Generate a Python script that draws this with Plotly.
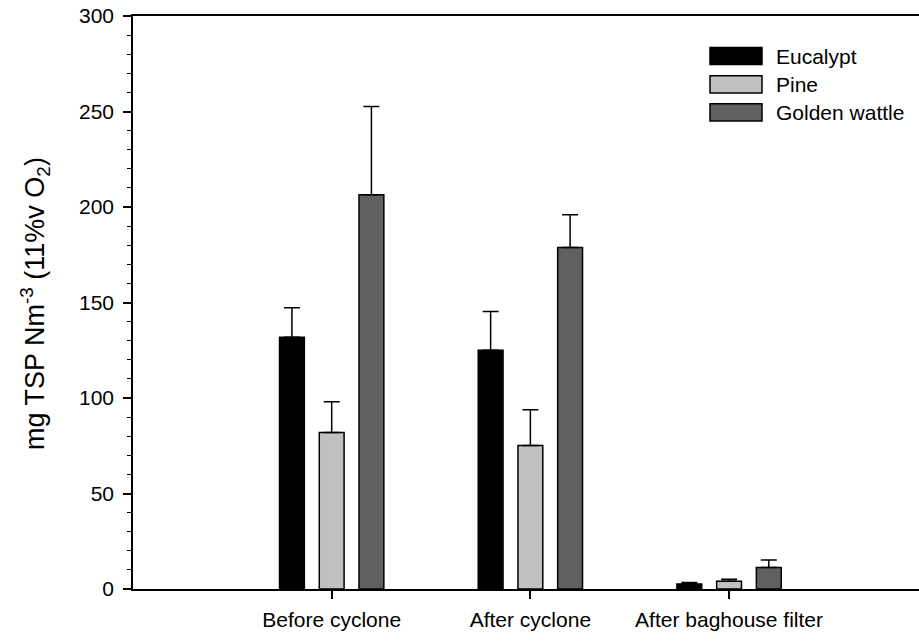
import plotly.graph_objects as go

# ---- data ----
stages = ["Before cyclone", "After cyclone", "After baghouse filter"]
stage_pos = [1, 2, 3]
series_names = ["Eucalypt", "Pine", "Golden wattle"]
eucalypt = [131.8, 125.0, 2.6]
eucalypt_err = [15.4, 20.3, 0.8]
pine = [81.9, 75.1, 4.0]
pine_err = [16.1, 18.7, 1.1]
golden = [206.4, 178.8, 11.3]
golden_err = [46.2, 17.1, 3.9]
y_ticks = [0, 50, 100, 150, 200, 250, 300]

colors = ["#000000", "#c0c0c0", "#606060"]
values = [eucalypt, pine, golden]
errors = [eucalypt_err, pine_err, golden_err]
offsets = [-0.2, 0.0, 0.2]
bar_w = 0.125

FONT = "Liberation Sans, Arial, sans-serif"

fig = go.Figure()
for name, vals, errs, col, off in zip(series_names, values, errors, colors, offsets):
    fig.add_trace(go.Bar(
        x=stage_pos, y=vals, name=name,
        width=bar_w, offset=off - bar_w / 2,
        marker=dict(color=col, line=dict(color="black", width=1.5)),
        error_y=dict(type="data", symmetric=False, array=errs,
                     arrayminus=[0] * len(errs), color="black",
                     thickness=1.5, width=8),
        showlegend=False,
    ))

W, H = 919, 641
L, R, T, B = 133, 0, 16, 52
pw, ph = W - L - R, H - T - B


def px2paper_x(px):
    return (px - L) / pw


def px2paper_y(py):
    return (H - B - py) / ph


shapes = []
annotations = []
# custom legend
leg_rows = [56, 84.3, 112.3]
for name, col, yc in zip(series_names, colors, leg_rows):
    shapes.append(dict(type="rect", xref="paper", yref="paper",
                       x0=px2paper_x(710), x1=px2paper_x(762),
                       y0=px2paper_y(yc + 8.6), y1=px2paper_y(yc - 8.6),
                       fillcolor=col, line=dict(color="black", width=1.5)))
    annotations.append(dict(xref="paper", yref="paper",
                            x=px2paper_x(774), y=px2paper_y(yc),
                            xanchor="left", yanchor="middle", showarrow=False,
                            text=name, font=dict(family=FONT, size=21, color="black")))

# y-axis title
annotations.append(dict(xref="paper", yref="paper",
                        x=px2paper_x(35), y=px2paper_y(304),
                        xanchor="center", yanchor="middle", showarrow=False,
                        textangle=-90,
                        text="mg TSP Nm<sup>-3</sup> (11%v O<sub>2</sub>)",
                        font=dict(family=FONT, size=27, color="black")))

fig.update_layout(
    width=W, height=H,
    margin=dict(l=L, r=R, t=T, b=B, pad=0),
    paper_bgcolor="white", plot_bgcolor="white",
    font=dict(family=FONT, size=21, color="black"),
    shapes=shapes, annotations=annotations,
    barmode="overlay",
)
fig.update_xaxes(
    range=[0, 3.956], tickvals=stage_pos, ticktext=stages,
    showline=True, linecolor="black", linewidth=2, mirror=True,
    ticks="outside", ticklen=8, tickwidth=1.5, tickcolor="black",
    showgrid=False, zeroline=False,
    tickfont=dict(family=FONT, size=21, color="black"),
    ticklabelstandoff=3,
)
fig.update_yaxes(
    range=[0, 300], tickvals=y_ticks,
    showline=True, linecolor="black", linewidth=1.5,
    ticks="outside", ticklen=8, tickwidth=1.5, tickcolor="black",
    minor=dict(dtick=10, ticks="outside", ticklen=4, tickwidth=1.2, tickcolor="black"),
    showgrid=False, zeroline=False,
    tickfont=dict(family=FONT, size=21, color="black"),
    ticklabelstandoff=5,
)

fig.write_html("out.html")
